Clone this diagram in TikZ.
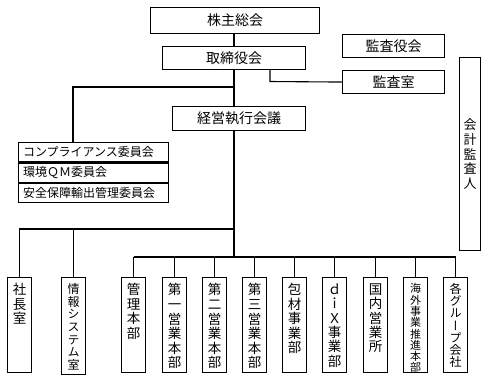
\documentclass[tikz,border=0pt]{standalone}
\usepackage{fontspec}
\setmainfont{Noto Sans CJK JP}
\newfontfamily\jpv[RawFeature=+vert]{Noto Sans CJK JP}
\newcommand\vcol[4]{\parbox[t][#1][t]{24pt}{\centering\jpv\fontsize{#2}{#3}\selectfont\vspace*{6pt}#4\par}}
\begin{document}
\begin{tikzpicture}[x=1pt,y=-1pt,
  box/.style={draw,line width=1.1pt,inner sep=0pt,anchor=north west,font=\fontsize{14}{16}\selectfont},
  cbox/.style={draw,line width=1.1pt,inner xsep=4.5pt,inner ysep=0pt,anchor=north west,text width=141pt,align=left,minimum height=19.3pt,font=\fontsize{12}{14}\selectfont},
  vbox/.style={draw,line width=1.1pt,inner sep=0pt,anchor=north west},
  conn/.style={line width=1.1pt}]
\useasboundingbox (0,0) rectangle (487,381);
% top boxes
\node[box,minimum width=169pt,minimum height=26pt] (kabu) at (150,7) {株主総会};
\node[box,minimum width=143pt,minimum height=23pt] (tori) at (162,46) {取締役会};
\node[box,minimum width=102pt,minimum height=23pt] (kansayaku) at (342,34) {監査役会};
\node[box,minimum width=102pt,minimum height=23pt] (kansashitsu) at (342,70) {監査室};
\node[box,minimum width=133pt,minimum height=24pt] (keiei) at (172,106) {経営執行会議};
\node[vbox,minimum width=21pt,minimum height=193pt] (kaikei) at (459,57)
  {\parbox{21pt}{\centering\jpv\fontsize{13}{14.6}\selectfont 会\\計\\監\\査\\人\par}};
% committees
\node[cbox] (comp1) at (18,142) {コンプライアンス委員会};
\node[cbox] (comp2) at (comp1.south west) {環境ＱＭ委員会};
\node[cbox] (comp3) at (comp2.south west) {安全保障輸出管理委員会};
% vertical boxes
\node[vbox] (shacho) at (7,277) {\vcol{95pt}{13.5}{14.5}{社\\長\\室}};
\node[vbox] (joho) at (61,277) {\vcol{97pt}{12}{12.6}{情\\報\\シ\\ス\\テ\\ム\\室}};
\node[vbox] (kanri) at (121,277) {\vcol{95pt}{13.5}{14.5}{管\\理\\本\\部}};
\node[vbox] (eigyo1) at (162,277) {\vcol{95pt}{13.5}{14.6}{第\\一\\営\\業\\本\\部}};
\node[vbox] (eigyo2) at (202,277) {\vcol{95pt}{13.5}{14.6}{第\\二\\営\\業\\本\\部}};
\node[vbox] (eigyo3) at (242,277) {\vcol{95pt}{13.5}{14.6}{第\\三\\営\\業\\本\\部}};
\node[vbox] (hozai) at (282,277) {\vcol{95pt}{13.5}{14.4}{包\\材\\事\\業\\部}};
\node[vbox] (dix) at (322,277) {\vcol{95pt}{13.5}{14.4}{ｄ\\ｉ\\Ｘ\\事\\業\\部}};
\node[vbox] (kokunai) at (363,277) {\vcol{95pt}{13.5}{14.4}{国\\内\\営\\業\\所}};
\node[vbox] (kaigai) at (403,277) {\vcol{95pt}{11}{11.3}{海\\外\\事\\業\\推\\進\\本\\部}};
\node[vbox] (group) at (443,277) {\vcol{95pt}{12}{12.1}{各\\グ\\ル\\ー\\プ\\会\\社}};
% connector points
\coordinate (trunk) at (234,0);
\coordinate (jb) at (234,87);
\coordinate (cb) at (73,87);
\coordinate (ka) at (270,81.5);
\coordinate (lb) at (234,229);
\coordinate (bus) at (234,257);
% connectors
\draw[conn] (trunk |- kabu.south) -- (trunk |- tori.north);
\draw[conn] (trunk |- tori.south) -- (trunk |- keiei.north);
\draw[conn] (jb) -- (cb) -- (cb |- comp1.north);
\draw[conn] (ka |- tori.south) -- (ka) -- (kansashitsu.west);
\draw[conn] (trunk |- keiei.south) -- (bus);
\draw[conn] (lb) -- (shacho.north |- lb) -- (shacho.north);
\draw[conn] (joho.north |- lb) -- (joho.north);
\draw[conn] (kanri.north |- bus) -- (group.north |- bus);
\foreach \n in {kanri,eigyo1,eigyo2,eigyo3,hozai,dix,kokunai,kaigai,group}
  \draw[conn] (\n.north |- bus) -- (\n.north);
\end{tikzpicture}
\end{document}
